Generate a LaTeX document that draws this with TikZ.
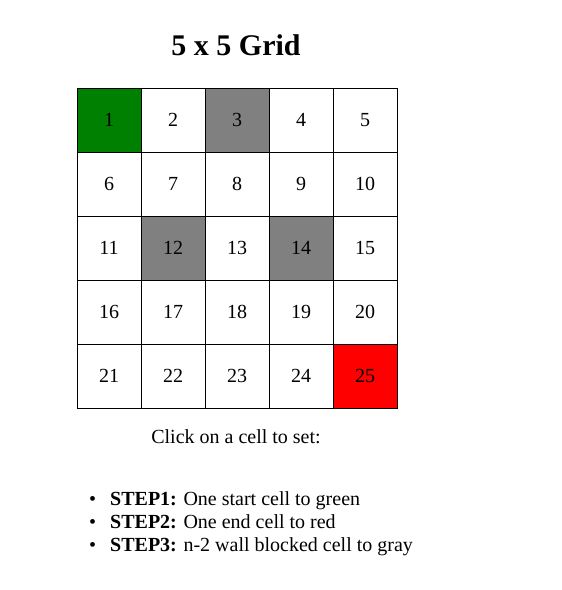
\documentclass[tikz,border=0pt]{standalone}
\usepackage{fontspec}
\setmainfont{Liberation Serif}
\usepackage{xcolor}
\usetikzlibrary{positioning}
\definecolor{startgreen}{RGB}{0,128,0}
\definecolor{wallgray}{RGB}{128,128,128}
\definecolor{endred}{RGB}{255,0,0}

\begin{document}
\begin{tikzpicture}[x=1pt,y=-1pt,font=\fontsize{20}{23}\selectfont,
  cell/.style={draw,line width=1pt,minimum size=64pt,inner sep=0pt,anchor=center},
  title/.style={font=\fontsize{30}{36}\selectfont\bfseries},
  item/.style={anchor=base west,inner sep=0pt}]
  \useasboundingbox (0,0) rectangle (562,590);
  \node[title] (title) at (236,45) {5 x 5 Grid};
  % grid cells, numbered row by row
  \foreach \r in {0,...,4}{
    \foreach \c in {0,...,4}{
      \pgfmathtruncatemacro{\n}{5*\r+\c+1}
      \node[cell] (c\n) at (109+64*\c,120+64*\r) {\n};
    }
  }
  \foreach \n/\col in {1/startgreen,25/endred,3/wallgray,12/wallgray,14/wallgray}
    \node[cell,fill=\col] at (c\n) {\n};
  \node[anchor=base,inner sep=0pt] (hint) at (236,443) {Click on a cell to set:};
  \node[item] (b1) at (89,505) {\textbullet};
  \node[item] (s1) at (110,505) {\textbf{STEP1:} One start cell to green};
  \node[item] (b2) at (89,528) {\textbullet};
  \node[item] (s2) at (110,528) {\textbf{STEP2:} One end cell to red};
  \node[item] (b3) at (89,551) {\textbullet};
  \node[item] (s3) at (110,551) {\textbf{STEP3:} n-2 wall blocked cell to gray};
\end{tikzpicture}
\end{document}
